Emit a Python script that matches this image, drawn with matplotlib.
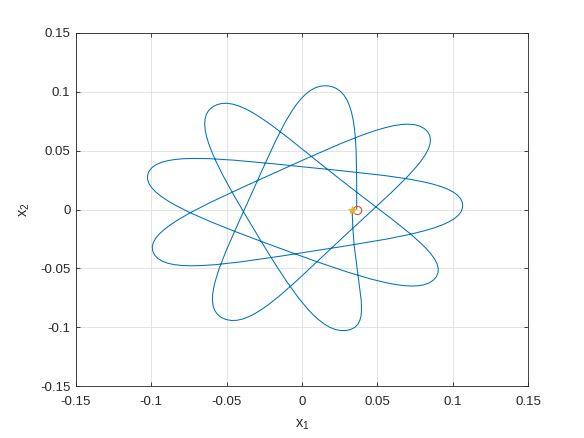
import numpy as np
import matplotlib
matplotlib.use("Agg")
import matplotlib.pyplot as plt
from matplotlib.path import Path
from matplotlib.patches import PathPatch

plt.rcParams["font.family"] = ["Liberation Sans", "DejaVu Sans"]
plt.rcParams["mathtext.default"] = "regular"

# orbit: start/end points and the outer turning points (in path order)
start_pt = (0.0363, 0.0)
end_pt = (0.0334, 0.0)
apo_x = [0.0175, -0.052, 0.0823, -0.0985, 0.1066, -0.102, 0.0883, -0.058, 0.031]
apo_y = [0.1048, -0.0925, 0.0674, -0.037, 0.0038, 0.031, -0.0584, 0.088, -0.1022]
peri_r = 0.036

ticks = [-0.15, -0.1, -0.05, 0, 0.05, 0.1, 0.15]
tick_labels = ["-0.15", "-0.1", "-0.05", "0", "0.05", "0.1", "0.15"]

blue = (0, 0.447, 0.741)
orange = (0.85, 0.325, 0.098)
yellow = (0.929, 0.694, 0.125)
dark = (0.15, 0.15, 0.15)

# turning points: inner ones sit halfway (in angle) between the outer ones
apo_ang = np.arctan2(apo_y, apo_x)
pts = [start_pt]
prev = 0.0
for i in range(len(apo_x)):
    a = apo_ang[i]
    while a < prev:
        a += 2 * np.pi
    apo_ang[i] = a
    pts.append((apo_x[i], apo_y[i]))
    if i + 1 < len(apo_x):
        nxt = apo_ang[i + 1]
        while nxt < a:
            nxt += 2 * np.pi
        m = 0.5 * (a + nxt)
        pts.append((peri_r * np.cos(m), peri_r * np.sin(m)))
    prev = a
pts.append(end_pt)

# smooth curve through the turning points, tangent normal to the radius there
k = 0.5523
verts = [pts[0]]
codes = [Path.MOVETO]
for p, q in zip(pts[:-1], pts[1:]):
    p = np.array(p)
    q = np.array(q)
    rp, rq = np.hypot(*p), np.hypot(*q)
    tp = np.array([-p[1], p[0]]) / rp
    tq = np.array([-q[1], q[0]]) / rq
    verts += [tuple(p + k * rq * tp), tuple(q - k * rp * tq), tuple(q)]
    codes += [Path.CURVE4] * 3

fig = plt.figure(figsize=(5.84, 4.38), dpi=100)
ax = fig.add_axes([0.1301, 0.118, 0.774, 0.8073])

ax.add_patch(PathPatch(Path(verts, codes), fill=False, edgecolor=blue, lw=0.75))
ax.plot(*start_pt, "o", mfc="none", mec=orange, ms=6, mew=0.8)
ax.plot(*end_pt, "*", color=yellow, ms=6, mew=0.6)

ax.set_xlim(-0.15, 0.15)
ax.set_ylim(-0.15, 0.15)
ax.set_xticks(ticks)
ax.set_xticklabels(tick_labels)
ax.set_yticks(ticks)
ax.set_yticklabels(tick_labels)
ax.grid(True, color=(0.87, 0.87, 0.87), lw=0.6)
ax.set_axisbelow(True)
ax.tick_params(direction="in", length=2.7, width=0.6, colors=dark, labelsize=9.5,
               top=True, right=True)
ax.tick_params(axis="x", pad=7)
ax.tick_params(axis="y", pad=4)
for s in ax.spines.values():
    s.set_color(dark)
    s.set_linewidth(0.6)

ax.set_xlabel("x$_1$", fontsize=10.5, color=dark, labelpad=7)
ax.set_ylabel("x$_2$", fontsize=10.5, color=dark, labelpad=6)

fig.savefig("out.png", dpi=100)
